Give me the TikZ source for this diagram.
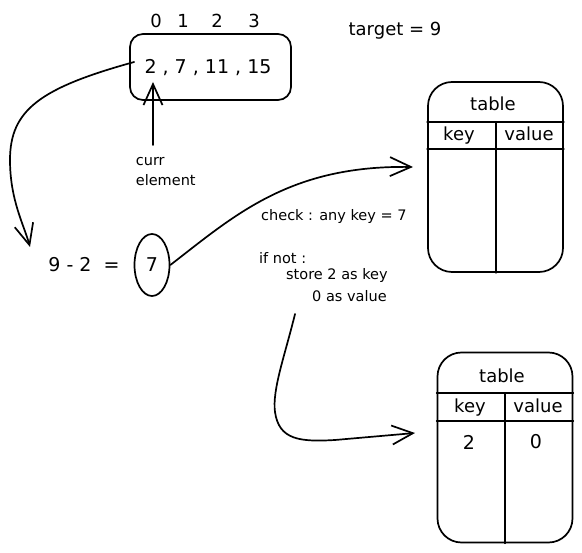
\documentclass[tikz,border=0pt]{standalone}
\usepackage{fontspec}
\setmainfont{DejaVu Sans}
\usetikzlibrary{arrows.meta,shapes.geometric}

\tikzset{
  big/.style={font=\fontsize{19}{21}\selectfont},
  mid/.style={font=\fontsize{18}{20}\selectfont},
  cell/.style={mid,text height=13pt,text depth=4pt},
  small/.style={font=\fontsize{14.5}{20}\selectfont},
  tablebox/.style={draw,rounded corners=24pt,minimum width=135pt,minimum height=190pt},
}

\begin{document}
\begin{tikzpicture}[x=1pt,y=-1pt,>={Straight Barb[length=21pt,width=19pt]},
    line width=1.7pt,line cap=round,line join=round]
    \useasboundingbox (0,0) rectangle (582,553);

    % array with its indices
    \node[draw,rounded corners=13pt,minimum width=161pt,minimum height=66pt] (arr) at (210.5,67) {};
    \node[big] (vals) at (208,68) {2 , 7 , 11 , 15};
    \node[mid] (i0) at (156,21) {0};
    \node[mid] (i1) at (183,21) {1};
    \node[mid] (i2) at (217,21) {2};
    \node[mid] (i3) at (254,21) {3};
    \node[mid] (target) at (395,31) {target = 9};

    % current element pointer
    \node[small,anchor=west,align=left,inner sep=0pt] (curr) at (135,172) {curr\\element};
    \coordinate (ptrtail) at (153,145);
    \coordinate (ptrhead) at (153,82);
    \draw[->] (ptrtail) -- (ptrhead);

    % difference
    \node[big] (diff) at (84,265) {9 - 2 \ =};
    \node[draw,ellipse,big,minimum width=35pt,minimum height=62pt,inner sep=0pt] (seven) at (152,265) {7};
    \coordinate (difftip) at (30,247);
    \draw[->] (arr.west) ++(5,-5) .. controls (40,88) and (10,110) .. (10,160)
        .. controls (10,200) and (24,225) .. (difftip);

    % notes
    \node[small,anchor=west] (check) at (257,217) {check : any key = 7};
    \node[small,anchor=west] (ifnot) at (255,258) {if not :};
    \node[small,anchor=west] (store) at (282,276) {store 2 as key};
    \node[small,anchor=west] (asval) at (308,296) {0 as value};

    % first table
    \node[tablebox] (tab1) at (495.5,177) {};
    \draw (tab1.west |- 0,122) -- (tab1.east |- 0,122);
    \draw (tab1.west |- 0,149) -- (tab1.east |- 0,149);
    \draw (496,122) -- (tab1.south -| 496,0);
    \node[cell] (t1name) at (493,106) {table};
    \node[cell] (t1key) at (459,136) {key};
    \node[cell] (t1val) at (529,136) {value};
    \coordinate (t1tip) at (413,167);
    \draw[->] (seven.east) .. controls (235,215) and (290,165) .. (t1tip);

    % second table
    \node[tablebox] (tab2) at (505,447.5) {};
    \draw (tab2.west |- 0,393) -- (tab2.east |- 0,393);
    \draw (tab2.west |- 0,421) -- (tab2.east |- 0,421);
    \draw (505,393) -- (tab2.south -| 505,0);
    \node[cell] (t2name) at (502,378) {table};
    \node[cell] (t2key) at (470,408) {key};
    \node[cell] (t2val) at (538,408) {value};
    \node[big] (t2k) at (469,442) {2};
    \node[big] (t2v) at (536,442) {0};
    \coordinate (t2tail) at (295,314);
    \coordinate (t2tip) at (415,433);
    \draw[->] (t2tail) .. controls (285,355) and (272,390) .. (275,412)
        .. controls (279,440) and (300,442) .. (335,440) -- (t2tip);
\end{tikzpicture}
\end{document}
